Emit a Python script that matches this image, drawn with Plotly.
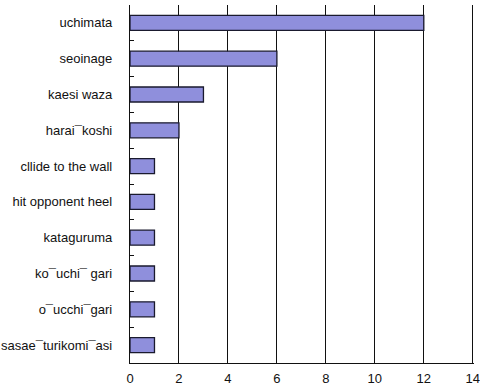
import plotly.graph_objects as go

techniques = ["uchimata", "seoinage", "kaesi waza", "harai\u00afkoshi", "cllide to the wall",
              "hit opponent heel", "kataguruma", "ko\u00afuchi\u00af gari", "o\u00afucchi\u00afgari",
              "sasae\u00afturikomi\u00afasi"]
counts = [12, 6, 3, 2, 1, 1, 1, 1, 1, 1]
x_ticks = [0, 2, 4, 6, 8, 10, 12, 14]

fig = go.Figure(go.Bar(
    x=counts, y=techniques, orientation="h", width=0.42,
    marker=dict(color="#8f8fdc", line=dict(color="#1a1a2e", width=1.3)),
    cliponaxis=False, hoverinfo="skip",
))
fig.update_layout(
    width=480, height=388, margin=dict(l=130, r=6, t=5, b=25, autoexpand=False),
    plot_bgcolor="white", paper_bgcolor="white", showlegend=False,
    font=dict(family="Liberation Sans, Arial, sans-serif", size=13, color="#111"),
)
fig.update_xaxes(range=[0, 14.05], tickvals=x_ticks, showgrid=True, gridcolor="#111", gridwidth=1.2,
                 showline=True, linecolor="#111", linewidth=1.3, zeroline=False,
                 ticks="", ticklabelstandoff=3, automargin=False, ticklabeloverflow="allow")
fig.update_yaxes(autorange="reversed", showline=True, linecolor="#111", linewidth=1.3,
                 ticks="inside", tickson="boundaries", ticklen=4, tickcolor="#111",
                 ticklabelstandoff=14, showgrid=False, automargin=False)
fig.write_html("out.html", config={"displayModeBar": False},
               post_script="document.body.style.margin='0';document.body.style.overflow='hidden';")
